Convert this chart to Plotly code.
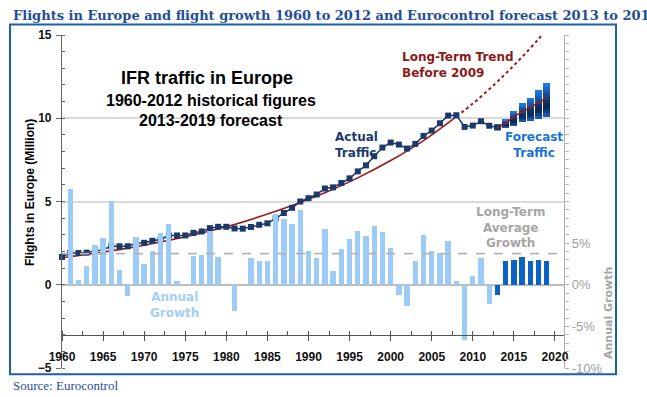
import plotly.graph_objects as go

# ---------------- data ----------------
years_hist = list(range(1960, 2014))
flights = [1.67, 1.91, 1.91, 1.93, 2.03, 2.11, 2.31, 2.31, 2.31, 2.49,
           2.52, 2.64, 2.72, 2.96, 2.96, 2.96, 3.12, 3.20, 3.40, 3.48,
           3.48, 3.38, 3.37, 3.47, 3.60, 3.69, 3.99, 4.31, 4.62, 5.00,
           5.20, 5.42, 5.78, 5.85, 6.11, 6.39, 6.81, 7.17, 7.72, 8.24,
           8.54, 8.42, 8.18, 8.46, 8.94, 9.26, 9.70, 10.16, 10.18, 9.48,
           9.56, 9.82, 9.55, 9.44]

growth_years = list(range(1961, 2020))
growth_pct = [11.5, 0.6, 2.2, 4.8, 5.6, 10.1, 1.8, -1.3, 5.7, 2.5,
              4.1, 6.2, 7.3, 0.4, 0.0, 3.4, 3.6, 6.4, 3.3, 0.0,
              -3.2, 0.0, 3.2, 2.8, 2.8, 8.5, 7.9, 7.3, 9.0, 4.0,
              3.2, 6.7, 1.7, 4.3, 5.5, 6.4, 5.8, 7.1, 6.3, 4.4,
              -1.2, -2.6, 2.9, 6.0, 4.0, 3.8, 5.2, 0.4, -6.6, 1.0,
              3.2, -2.3, -1.2, 2.9, 3.0, 3.3, 2.9, 3.0, 2.9]
first_forecast_year = 2013

fc_years = [2013, 2014, 2015, 2016, 2017, 2018, 2019]
fc_low = [9.30, 9.44, 9.54, 9.80, 9.86, 9.96, 10.10]
fc_high = [9.60, 9.94, 10.46, 10.90, 11.22, 11.70, 12.10]
fc_base = [9.44, 9.70, 10.10, 10.40, 10.66, 10.94, 11.20]

trend_years = [1960, 1964, 1968, 1972, 1976, 1980, 1984, 1988, 1992, 1996, 2000, 2004, 2008]
trend_vals = [1.62, 1.89, 2.20, 2.57, 2.99, 3.48, 4.08, 4.76, 5.52, 6.42, 7.46, 8.66, 10.10]
trend_ext_years = [2008, 2010, 2012, 2014, 2016, 2018, 2019]
trend_ext_vals = [10.10, 10.88, 11.74, 12.68, 13.68, 14.76, 15.34]

avg_growth_pct = 3.74

x_ticks = list(range(1960, 2021, 5))
y_ticks = [-5, 0, 5, 10, 15]
y2_ticks = [-10, -5, 0, 5]
y2_labels = ["-10%", "-5%", "0%", "5%"]

# ---------------- layout helpers (pixel -> paper) ----------------
L, R, T, B = 62, 564, 35, 368
W, H = 647, 397


def px(x):
    return (x - L) / (R - L)


def py(y):
    return (B - y) / (B - T)


SANS = "Liberation Sans, Arial, sans-serif"
VERD = "DejaVu Sans, Verdana, sans-serif"
NAVY = "#1b3a6b"
DARKRED = "#9b1b1b"

fig = go.Figure()

# growth bars (right axis)
bar_colors = ["#0b62c4" if y >= first_forecast_year else "#9dcbf8" for y in growth_years]
fig.add_trace(go.Bar(x=growth_years, y=growth_pct, yaxis="y2", width=0.65,
                     marker=dict(color=bar_colors, line=dict(width=0)),
                     hoverinfo="x+y"))

# forecast range boxes drawn as stacked colour slices (vertical gradient)
N = 10
grad = ["#1758ac", "#0f3f80", "#0b2c5c", "#0a2a58", "#0c3268",
        "#0f3e80", "#134c98", "#175bb0", "#1b6ac8", "#1f78de"]
for i in range(N):
    bases = [lo + (hi - lo) * i / N for lo, hi in zip(fc_low, fc_high)]
    hts = [(hi - lo) / N for lo, hi in zip(fc_low, fc_high)]
    fig.add_trace(go.Bar(x=fc_years, y=hts, base=bases, width=0.85,
                         marker=dict(color=grad[i], line=dict(width=0)),
                         hoverinfo="skip"))

# long-term trend
fig.add_trace(go.Scatter(x=trend_years, y=trend_vals, mode="lines",
                         line=dict(color=DARKRED, width=1.6, shape="spline")))
fig.add_trace(go.Scatter(x=trend_ext_years, y=trend_ext_vals, mode="lines",
                         line=dict(color=DARKRED, width=2, dash="dot", shape="spline")))

# actual traffic
fig.add_trace(go.Scatter(x=years_hist, y=flights, mode="lines+markers",
                         cliponaxis=False,
                         line=dict(color=NAVY, width=1.5),
                         marker=dict(symbol="square", size=6, color=NAVY)))

# base forecast line
fig.add_trace(go.Scatter(x=fc_years, y=fc_base, mode="lines",
                         line=dict(color=DARKRED, width=1.6)))

ann = []


def add_text(text, x, y, size, color, family=VERD, bold=True, xanchor="center",
             align="center", angle=0):
    ann.append(dict(text=text, x=px(x), y=py(y), xref="paper", yref="paper",
                    xanchor=xanchor, yanchor="middle", align=align, showarrow=False,
                    textangle=angle,
                    font=dict(family=family, size=size, color=color,
                              weight="bold" if bold else "normal")))


add_text("Flights in Europe and flight growth 1960 to 2012 and Eurocontrol forecast 2013 to 2019",
         11, 15, 13, "#1f4e99", family="DejaVu Serif, Georgia, serif", xanchor="left", align="left")
add_text("Source: Eurocontrol", 11, 385, 13, "#1f4e99",
         family="Liberation Serif, Georgia, serif", bold=False, xanchor="left", align="left")
add_text("Flights in Europe (Million)", 30, 193, 12, "#000000", family=SANS, angle=-90)
add_text("Annual Growth", 608, 313, 11, "#a6a6a6", angle=-90)
add_text("IFR traffic in Europe", 207, 78, 18, "#000000", family=SANS)
add_text("1960-2012 historical figures", 211, 100, 16, "#000000", family=SANS)
add_text("2013-2019 forecast", 211, 120, 16, "#000000", family=SANS)
add_text("Actual<br>Traffic", 333, 145, 12, NAVY, xanchor="left", align="left")
add_text("Long-Term Trend<br>Before 2009", 400, 65, 12, "#8b1a1a", xanchor="left", align="left")
add_text("Forecast<br>Traffic", 534, 145, 12, "#1874d4")
add_text("Long-Term<br>Average<br>Growth", 510, 227, 12, "#a6a6a6")
add_text("Annual<br>Growth", 174, 305, 12, "#a3cff6")

shapes = [
    dict(type="rect", xref="paper", yref="paper", x0=px(10), x1=px(616),
         y0=py(374.3), y1=py(24.5), line=dict(color="#1f5fa8", width=2), layer="below"),
    dict(type="line", xref="paper", yref="y2", x0=0, x1=1, y0=avg_growth_pct, y1=avg_growth_pct,
         line=dict(color="#b4b4b4", width=1.6, dash="dash"), layer="above"),
]

fig.update_layout(
    width=W, height=H,
    margin=dict(l=L, r=W - R, t=T, b=H - B),
    paper_bgcolor="white", plot_bgcolor="white",
    showlegend=False, barmode="overlay", bargap=0,
    annotations=ann, shapes=shapes,
    xaxis=dict(range=[1960, 2021.1], anchor="free", position=0.1, automargin=False,
               tickmode="array", tickvals=x_ticks, showgrid=False, zeroline=False,
               showline=True, linecolor="#555555", linewidth=1.2,
               ticks="outside", ticklen=5, tickcolor="#555555", ticklabelstandoff=6,
               tickfont=dict(family=SANS, size=12, color="#111111", weight="bold"),
               minor=dict(dtick=2.5, tick0=1960, ticks="inside", ticklen=4, tickcolor="#555555")),
    yaxis=dict(range=[-5, 15], tickmode="array", tickvals=y_ticks, automargin=False,
               showgrid=True, gridcolor="#dadada", gridwidth=1.5,
               zeroline=True, zerolinecolor="#bdbdbd", zerolinewidth=2,
               showline=True, linecolor="#666666", linewidth=1.2,
               ticks="outside", ticklen=5, tickcolor="#666666", ticklabelstandoff=2,
               tickfont=dict(family=SANS, size=12, color="#111111", weight="bold"),
               minor=dict(dtick=1, tick0=0, ticks="inside", ticklen=3, tickcolor="#666666")),
    yaxis2=dict(range=[-10, 30], overlaying="y", side="right", anchor="x", automargin=False,
                tickmode="array", tickvals=y2_ticks, ticktext=y2_labels,
                showgrid=False, zeroline=False,
                showline=True, linecolor="#b0b0b0", linewidth=1.2,
                ticks="outside", ticklen=4, tickcolor="#b0b0b0",
                tickfont=dict(family=SANS, size=13, color="#a0a0a0"),
                minor=dict(dtick=1, tick0=0, ticks="outside", ticklen=4, tickcolor="#b8b8b8")),
)

fig.write_html("out.html", config={"displayModeBar": False},
               post_script="document.body.style.margin='0px';document.body.style.overflow='hidden';")
